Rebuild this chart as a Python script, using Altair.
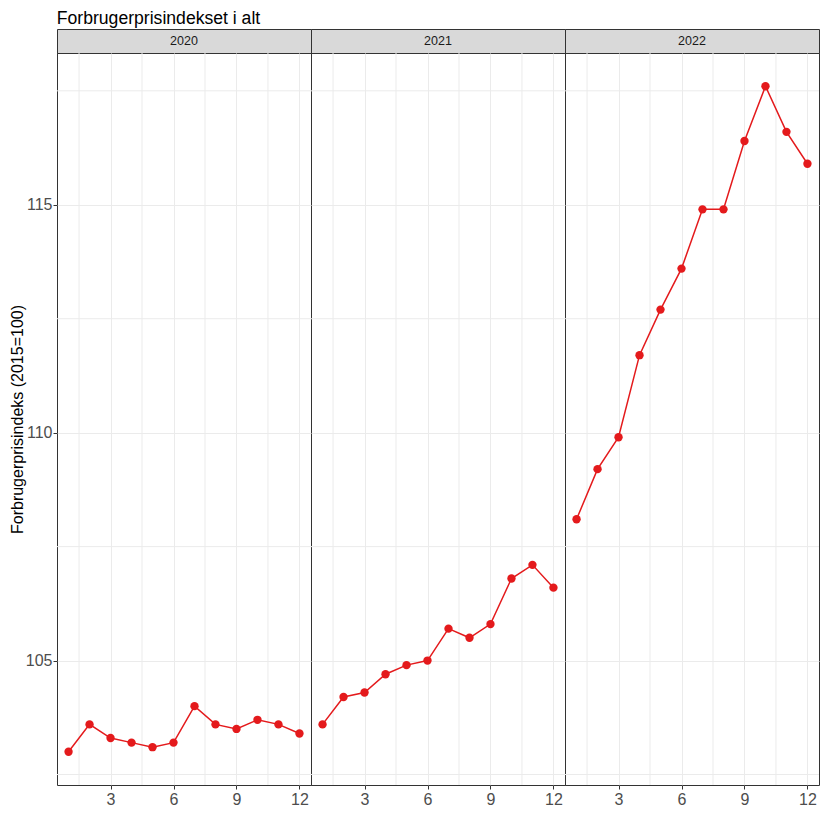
import altair as alt
import pandas as pd

years = ["2020", "2021", "2022"]
months = list(range(1, 13))
v2020 = [103.0, 103.6, 103.3, 103.2, 103.1, 103.2, 104.0, 103.6, 103.5, 103.7, 103.6, 103.4]
v2021 = [103.6, 104.2, 104.3, 104.7, 104.9, 105.0, 105.7, 105.5, 105.8, 106.8, 107.1, 106.6]
v2022 = [108.1, 109.2, 109.9, 111.7, 112.7, 113.6, 114.9, 114.9, 116.4, 117.6, 116.6, 115.9]
values = {"2020": v2020, "2021": v2021, "2022": v2022}

y_major = [105, 110, 115]
y_minor = [102.5, 107.5, 112.5, 117.5]
x_major = [3, 6, 9, 12]
x_minor = [1.5, 4.5, 7.5, 10.5]

FONT = "Liberation Sans"
RED = "#E41A1C"
GRID = "#EBEBEB"
W, H, STRIP = 254, 732, 24

xscale = alt.Scale(domain=[0.45, 12.55], nice=False, zero=False)
yscale = alt.Scale(domain=[102.27, 118.33], nice=False, zero=False)


def xaxis():
    return alt.Axis(values=x_major, title=None, labelFontSize=16, labelColor="#4D4D4D",
                    labelFont=FONT, tickColor="#333333", tickSize=4, labelPadding=2,
                    domain=False, grid=True, gridColor=GRID, gridWidth=1)


def yaxis(first):
    if first:
        return alt.Axis(values=y_major, title="Forbrugerprisindeks (2015=100)",
                        titleFontSize=16, titleFontWeight="normal", titleColor="#000000",
                        titleFont=FONT, titlePadding=0,
                        labelFontSize=16, labelColor="#4D4D4D", labelFont=FONT,
                        tickColor="#333333", tickSize=4, labelPadding=1,
                        domain=False, grid=True, gridColor=GRID, gridWidth=1)
    return alt.Axis(values=y_major, title=None, labels=False, ticks=False, domain=False,
                    grid=True, gridColor=GRID, gridWidth=1)


strips = []
panels = []
for i, yr in enumerate(years):
    df = pd.DataFrame({"month": months, "value": values[yr]})
    ymin = pd.DataFrame({"y": y_minor})
    xmin = pd.DataFrame({"x": x_minor})

    base = alt.Chart(df).encode(
        x=alt.X("month:Q", scale=xscale, axis=xaxis()),
        y=alt.Y("value:Q", scale=yscale, axis=yaxis(i == 0)),
    )
    hgrid = alt.Chart(ymin).mark_rule(color=GRID, strokeWidth=1).encode(
        y=alt.Y("y:Q", scale=yscale))
    vgrid = alt.Chart(xmin).mark_rule(color=GRID, strokeWidth=1).encode(
        x=alt.X("x:Q", scale=xscale))
    line = base.mark_line(color=RED, strokeWidth=1.5)
    pts = base.mark_point(filled=True, size=70, opacity=1, color=RED, shape="circle")
    panels.append(alt.layer(hgrid, vgrid, line, pts).properties(width=W, height=H))

    strips.append(alt.Chart(pd.DataFrame({"year": [yr]})).mark_text(
        fontSize=12.5, color="#1A1A1A", font=FONT
    ).encode(
        text="year:N", x=alt.value(W / 2), y=alt.value(STRIP / 2)
    ).properties(width=W, height=STRIP,
                 view=alt.ViewBackground(fill="#D9D9D9", stroke="#333333", strokeWidth=1)))

chart = alt.concat(*strips, *panels, columns=3, spacing=0, bounds="flush").properties(
    title=alt.Title("Forbrugerprisindekset i alt", anchor="start", fontSize=17.6,
                    fontWeight="normal", color="#000000", font=FONT, offset=0.7, dx=48),
    padding={"left": 0, "top": 2, "right": 0, "bottom": 0},
    background="white",
).configure_view(stroke="#333333", strokeWidth=1)

chart.save("out.html", embed_options={"renderer": "svg", "actions": False})
